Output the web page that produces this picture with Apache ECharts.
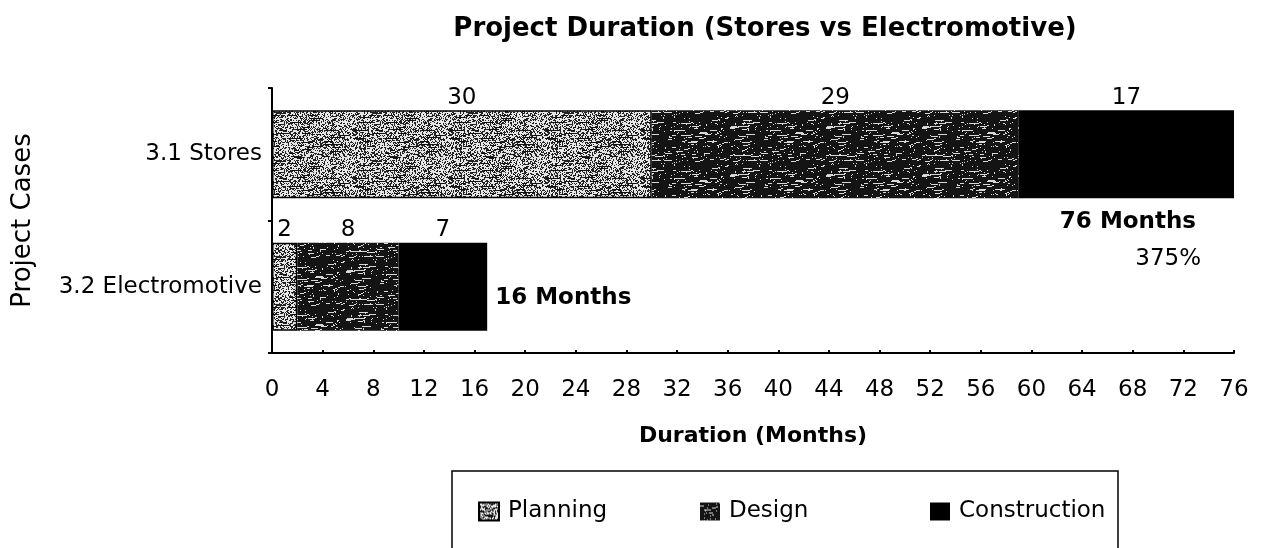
<!DOCTYPE html>
<html>
<head>
<meta charset="utf-8">
<script src="https://cdn.jsdelivr.net/npm/echarts@6/dist/echarts.min.js"></script>
<style>
  html, body { margin: 0; padding: 0; background: #fff; }
  #chart { width: 1266px; height: 548px; }
</style>
</head>
<body>
<div id="chart"></div>
<script>
// Project phases in months for each case
const categories = ['3.1 Stores', '3.2 Electromotive'];
const planning = [30, 2];
const design = [29, 8];
const construction = [17, 7];
const totalLabels = ['76 Months', '16 Months'];
const ratioLabel = '375%';

const FONT = 'DejaVu Sans';

// Deterministic hash used for the scanned-print textures
function hash(i) {
  const x = Math.sin(i * 12.9898 + 78.233) * 43758.5453;
  return x - Math.floor(x);
}

// Light stippled texture for the planning phase
function planningTexture() {
  const c = document.createElement('canvas');
  c.width = 96; c.height = 48;
  const g = c.getContext('2d');
  g.fillStyle = '#e6e6e6';
  g.fillRect(0, 0, c.width, c.height);
  g.fillStyle = '#222';
  let k = 0;
  for (let y = 0; y < c.height; y++) {
    for (let x = 0; x < c.width; x++) {
      if (hash(k++) < 0.42) g.fillRect(x, y, 1, 1);
    }
  }
  g.fillStyle = '#111';
  for (let i = 0; i < 50; i++) {
    const x = Math.floor(hash(1000 + i) * c.width);
    const y = Math.floor(hash(2000 + i) * c.height);
    g.fillRect(x, y, 4 + Math.floor(hash(3000 + i) * 8), 1);
  }
  return c;
}

// Dark texture with light streaks for the design phase
function designTexture() {
  const c = document.createElement('canvas');
  c.width = 96; c.height = 48;
  const g = c.getContext('2d');
  g.fillStyle = '#141414';
  g.fillRect(0, 0, c.width, c.height);
  g.fillStyle = '#d8d8d8';
  for (let i = 0; i < 70; i++) {
    const x = Math.floor(hash(5000 + i) * c.width);
    const y = Math.floor(hash(6000 + i) * c.height);
    const len = 2 + Math.floor(hash(7000 + i) * 9);
    g.fillRect(x, y, len, 1);
    if (hash(8000 + i) > 0.5) g.fillRect(x + len, y - 1, 2, 1);
  }
  for (let i = 0; i < 160; i++) {
    const x = Math.floor(hash(9000 + i) * c.width);
    const y = Math.floor(hash(9500 + i) * c.height);
    g.fillRect(x, y, 1, 1);
  }
  return c;
}

const planningFill = { image: planningTexture(), repeat: 'repeat' };
const designFill = { image: designTexture(), repeat: 'repeat' };

const chart = echarts.init(document.getElementById('chart'), null, { renderer: 'canvas' });

const barLabel = {
  show: true,
  position: 'top',
  distance: 1,
  color: '#000',
  fontFamily: FONT,
  fontSize: 23
};

function legendAt(left, name) {
  return {
    data: [name],
    left: left,
    top: 500,
    padding: 0,
    icon: 'rect',
    itemWidth: 20,
    itemHeight: 18,
    itemGap: 10,
    selectedMode: false,
    textStyle: { fontFamily: FONT, fontSize: 23, color: '#000', padding: [0, 0, 0, 4] }
  };
}

chart.setOption({
  animation: false,
  backgroundColor: '#fff',
  title: {
    text: 'Project Duration (Stores vs Electromotive)',
    left: 760,
    top: 11,
    textAlign: 'center',
    textStyle: { fontFamily: FONT, fontSize: 26, fontWeight: 'bold', color: '#000' }
  },
  legend: [
    legendAt(478, 'Planning'),
    legendAt(700, 'Design'),
    legendAt(930, 'Construction')
  ],
  grid: { left: 272, right: 32, top: 88, bottom: 195 },
  xAxis: {
    type: 'value',
    min: 0,
    max: 76,
    interval: 4,
    name: 'Duration (Months)',
    nameLocation: 'middle',
    nameGap: 72,
    nameTextStyle: { fontFamily: FONT, fontSize: 22, fontWeight: 'bold', color: '#000' },
    axisLine: { show: true, lineStyle: { color: '#000', width: 2 } },
    axisTick: { show: true, length: 3, inside: true, lineStyle: { color: '#000', width: 2 } },
    axisLabel: { fontFamily: FONT, fontSize: 23, color: '#000', margin: 26 },
    splitLine: { show: false }
  },
  yAxis: {
    type: 'category',
    inverse: true,
    data: categories,
    name: 'Project Cases',
    nameLocation: 'middle',
    nameGap: 236,
    nameRotate: 90,
    nameTextStyle: { fontFamily: FONT, fontSize: 26, color: '#000' },
    axisLine: { show: true, lineStyle: { color: '#000', width: 2 } },
    axisTick: { show: true, length: 4, lineStyle: { color: '#000', width: 2 } },
    axisLabel: { fontFamily: FONT, fontSize: 23, color: '#000', margin: 10 }
  },
  series: [
    {
      name: 'Planning',
      type: 'bar',
      stack: 'phase',
      barWidth: 88,
      data: planning,
      itemStyle: { color: planningFill, borderColor: '#000', borderWidth: 1.5 },
      label: barLabel
    },
    {
      name: 'Design',
      type: 'bar',
      stack: 'phase',
      data: design,
      itemStyle: { color: designFill },
      label: barLabel
    },
    {
      name: 'Construction',
      type: 'bar',
      stack: 'phase',
      data: construction,
      itemStyle: { color: '#000' },
      label: barLabel
    }
  ]
});

// Totals and the comparison note, placed at the end of each stacked bar
const totals = categories.map((_, i) => planning[i] + design[i] + construction[i]);
const endStores = chart.convertToPixel({ xAxisIndex: 0, yAxisIndex: 0 }, [totals[0], 0]);
const endElectro = chart.convertToPixel({ xAxisIndex: 0, yAxisIndex: 0 }, [totals[1], 1]);
const noteStyle = { fontFamily: FONT, fontSize: 23, fill: '#000' };

chart.setOption({
  graphic: [
    {
      type: 'rect',
      shape: { x: 452, y: 471, width: 666, height: 140 },
      style: { fill: 'none', stroke: '#000', lineWidth: 1.5 },
      silent: true
    },
    {
      type: 'text',
      x: endStores[0] - 38,
      y: endStores[1] + 68,
      style: Object.assign({ text: totalLabels[0], align: 'right', verticalAlign: 'middle', fontWeight: 'bold' }, noteStyle)
    },
    {
      type: 'text',
      x: endStores[0] - 33,
      y: endStores[1] + 105,
      style: Object.assign({ text: ratioLabel, align: 'right', verticalAlign: 'middle' }, noteStyle)
    },
    {
      type: 'text',
      x: endElectro[0] + 8,
      y: endElectro[1] + 11,
      style: Object.assign({ text: totalLabels[1], align: 'left', verticalAlign: 'middle', fontWeight: 'bold' }, noteStyle)
    }
  ]
});
</script>
</body>
</html>
